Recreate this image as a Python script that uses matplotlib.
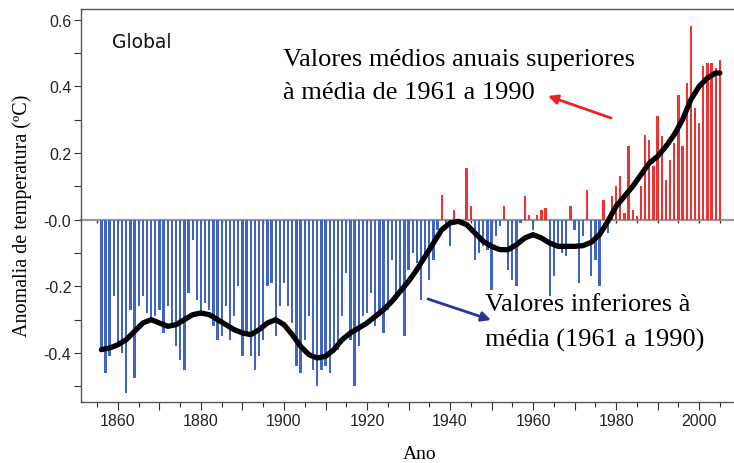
import matplotlib
matplotlib.use("Agg")
import matplotlib.pyplot as plt
from matplotlib import font_manager
from matplotlib.ticker import MultipleLocator, FixedLocator, FuncFormatter

# ---------------- data ----------------
years = list(range(1856, 2006))
anomaly = [
    # 1856-1859
    -0.39, -0.46, -0.41, -0.23,
    # 1860-1869
    -0.38, -0.40, -0.52, -0.27, -0.475, -0.26, -0.23, -0.28, -0.30, -0.29,
    # 1870-1879
    -0.27, -0.34, -0.26, -0.32, -0.38, -0.42, -0.45, -0.22, -0.06, -0.24,
    # 1880-1889
    -0.29, -0.25, -0.27, -0.32, -0.36, -0.35, -0.26, -0.36, -0.29, -0.20,
    # 1890-1899
    -0.41, -0.35, -0.41, -0.45, -0.41, -0.36, -0.20, -0.19, -0.35, -0.26,
    # 1900-1909
    -0.19, -0.26, -0.31, -0.44, -0.46, -0.36, -0.29, -0.45, -0.50, -0.45,
    # 1910-1919
    -0.44, -0.46, -0.40, -0.39, -0.29, -0.16, -0.36, -0.50, -0.38, -0.29,
    # 1920-1929
    -0.28, -0.22, -0.32, -0.29, -0.34, -0.27, -0.12, -0.24, -0.22, -0.35,
    # 1930-1939
    -0.15, -0.10, -0.13, -0.24, -0.11, -0.18, -0.12, -0.03, 0.075, -0.02,
    # 1940-1949
    -0.08, 0.03, -0.01, -0.01, 0.155, 0.04, -0.12, -0.10, -0.08, -0.09,
    # 1950-1959
    -0.21, -0.05, -0.02, 0.04, -0.15, -0.18, -0.20, -0.01, 0.07, 0.015,
    # 1960-1969
    -0.03, 0.015, 0.03, 0.035, -0.23, -0.17, -0.08, -0.10, -0.11, 0.04,
    # 1970-1979
    -0.03, -0.19, -0.05, 0.09, -0.17, -0.12, -0.20, 0.06, -0.04, 0.07,
    # 1980-1989
    0.10, 0.13, 0.02, 0.22, 0.03, 0.01, 0.10, 0.255, 0.24, 0.16,
    # 1990-1999
    0.31, 0.25, 0.12, 0.18, 0.23, 0.375, 0.22, 0.41, 0.58, 0.335,
    # 2000-2005
    0.29, 0.46, 0.47, 0.47, 0.455, 0.48,
]

smooth_years = [1856, 1858, 1860, 1862, 1864, 1866, 1868, 1870, 1872, 1874,
                1876, 1878, 1880, 1882, 1884, 1886, 1888, 1890, 1892, 1894,
                1896, 1898, 1900, 1902, 1904, 1906, 1908, 1910, 1912, 1914,
                1916, 1918, 1920, 1922, 1924, 1926, 1928, 1930, 1932, 1934,
                1936, 1938, 1940, 1942, 1944, 1946, 1948, 1950, 1952, 1954,
                1956, 1958, 1960, 1962, 1964, 1966, 1968, 1970, 1972, 1974,
                1976, 1978, 1980, 1982, 1984, 1986, 1988, 1990, 1992, 1994,
                1996, 1998, 2000, 2002, 2004, 2005]
smooth_vals = [-0.39, -0.385, -0.375, -0.36, -0.335, -0.31, -0.30, -0.31, -0.32, -0.315,
               -0.30, -0.285, -0.28, -0.285, -0.30, -0.315, -0.33, -0.34, -0.345, -0.33,
               -0.31, -0.30, -0.315, -0.345, -0.38, -0.405, -0.415, -0.41, -0.39, -0.36,
               -0.34, -0.325, -0.31, -0.29, -0.27, -0.245, -0.215, -0.185, -0.15, -0.11,
               -0.07, -0.03, -0.01, -0.005, -0.015, -0.04, -0.065, -0.08, -0.09, -0.09,
               -0.075, -0.055, -0.045, -0.055, -0.07, -0.08, -0.08, -0.08, -0.078, -0.068,
               -0.045, -0.005, 0.04, 0.07, 0.10, 0.135, 0.17, 0.19, 0.22, 0.255,
               0.30, 0.36, 0.40, 0.425, 0.44, 0.44]

ytick_vals = [-0.4, -0.2, 0.0, 0.2, 0.4, 0.6]
ytick_labels = ["-0.4", "-0.2", "-0.0", "0.2", "0.4", "0.6"]
xtick_label_years = [1860, 1880, 1900, 1920, 1940, 1960, 1980, 2000]

title_text = "Global"
upper_text = ["Valores médios anuais superiores", "à média de 1961 a 1990"]
lower_text = ["Valores inferiores à", "média (1961 a 1990)"]
ylabel_text = "Anomalia de temperatura (ºC)"
xlabel_text = "Ano"

# ---------------- fonts ----------------
available = {f.name for f in font_manager.fontManager.ttflist}
tick_font = "Liberation Sans Narrow" if "Liberation Sans Narrow" in available else "Liberation Sans"
serif_font = "Liberation Serif"

W, H = 734, 464
fig = plt.figure(figsize=(W / 100, H / 100), dpi=100)

ax_left, ax_right, ax_top, ax_bottom = 81, 734, 10, 403
ax = fig.add_axes([ax_left / W, 1 - ax_bottom / H, (ax_right - ax_left) / W, (ax_bottom - ax_top) / H])

ymin, ymax = -0.547, 0.632
xmin, xmax = 1851.1, 2008.4
ax.set_xlim(xmin, xmax)
ax.set_ylim(ymin, ymax)

blue = "#4064C0"
red = "#EE3131"
colors = [red if v > 0 else blue for v in anomaly]
ax.bar(years, anomaly, width=0.56, color=colors, linewidth=0, zorder=2)

ax.plot(smooth_years, smooth_vals, color="black", lw=3.8,
        solid_capstyle="round", solid_joinstyle="round", zorder=5)

# spines
for s in ["left", "top", "bottom"]:
    ax.spines[s].set_color("#555555")
    ax.spines[s].set_linewidth(1.0)
ax.spines["right"].set_visible(False)

# y ticks
ax.yaxis.set_major_locator(FixedLocator(ytick_vals))
ax.set_yticklabels(ytick_labels)
ax.yaxis.set_minor_locator(FixedLocator([-0.5, -0.3, -0.1, 0.1, 0.3, 0.5]))
ax.tick_params(axis="y", which="major", direction="out", length=5, width=0.8,
               color="#333333", pad=2, labelsize=11.5, labelcolor="#222222")
ax.tick_params(axis="y", which="minor", direction="out", length=5, width=0.8, color="#333333")

# x ticks
ax.xaxis.set_major_locator(MultipleLocator(10))
ax.xaxis.set_minor_locator(MultipleLocator(5))
ax.xaxis.set_major_formatter(FuncFormatter(
    lambda v, p: f"{int(round(v))}" if int(round(v)) in xtick_label_years else ""))
ax.tick_params(axis="x", which="major", direction="out", length=6, width=0.8,
               color="#333333", pad=2, labelsize=11.5, labelcolor="#222222")
ax.tick_params(axis="x", which="minor", direction="out", length=3.5, width=0.8, color="#333333")
ax.tick_params(top=False)
for lab in ax.get_xticklabels() + ax.get_yticklabels():
    lab.set_fontfamily(tick_font)

# zero line with small ticks
zero_frac = (0 - ymin) / (ymax - ymin)
sec = ax.secondary_xaxis(zero_frac)
sec.xaxis.set_major_locator(MultipleLocator(5))
sec.spines["bottom"].set_color("#9a9a9a")
sec.spines["bottom"].set_linewidth(1.6)
sec.spines["top"].set_visible(False)
sec.tick_params(axis="x", which="both", direction="out", length=2.5, width=1.0,
                color="#333333", labelbottom=False, labeltop=False)
sec.xaxis.set_minor_locator(FixedLocator([]))

# texts
def fx(px):
    return px / W

def fy(py):
    return 1 - py / H

fig.text(fx(112), fy(42), title_text, fontsize=13.5, family="DejaVu Sans",
         va="center", ha="left", color="#111111")

fig.text(fx(283), fy(60), upper_text[0], fontsize=19, family=serif_font, va="center", ha="left")
fig.text(fx(283), fy(93), upper_text[1], fontsize=19, family=serif_font, va="center", ha="left")
fig.text(fx(485), fy(305), lower_text[0], fontsize=19, family=serif_font, va="center", ha="left")
fig.text(fx(485), fy(340), lower_text[1], fontsize=19, family=serif_font, va="center", ha="left")

fig.text(fx(22), fy(216), ylabel_text, fontsize=14.5, family=serif_font,
         rotation=90, va="center", ha="center")
fig.text(fx(420), fy(455), xlabel_text, fontsize=14, family=serif_font,
         va="center", ha="center")

# arrows (figure pixel coordinates)
ax.annotate("", xy=(548, H - 97), xycoords="figure pixels",
            xytext=(611, H - 119), textcoords="figure pixels",
            arrowprops=dict(arrowstyle="-|>", color="#EE2222", lw=2.0, mutation_scale=14,
                            shrinkA=0, shrinkB=0))
ax.annotate("", xy=(491, H - 321), xycoords="figure pixels",
            xytext=(428, H - 300), textcoords="figure pixels",
            arrowprops=dict(arrowstyle="-|>", color="#2B3494", lw=2.0, mutation_scale=14,
                            shrinkA=0, shrinkB=0))

fig.savefig("out.png", dpi=100)
